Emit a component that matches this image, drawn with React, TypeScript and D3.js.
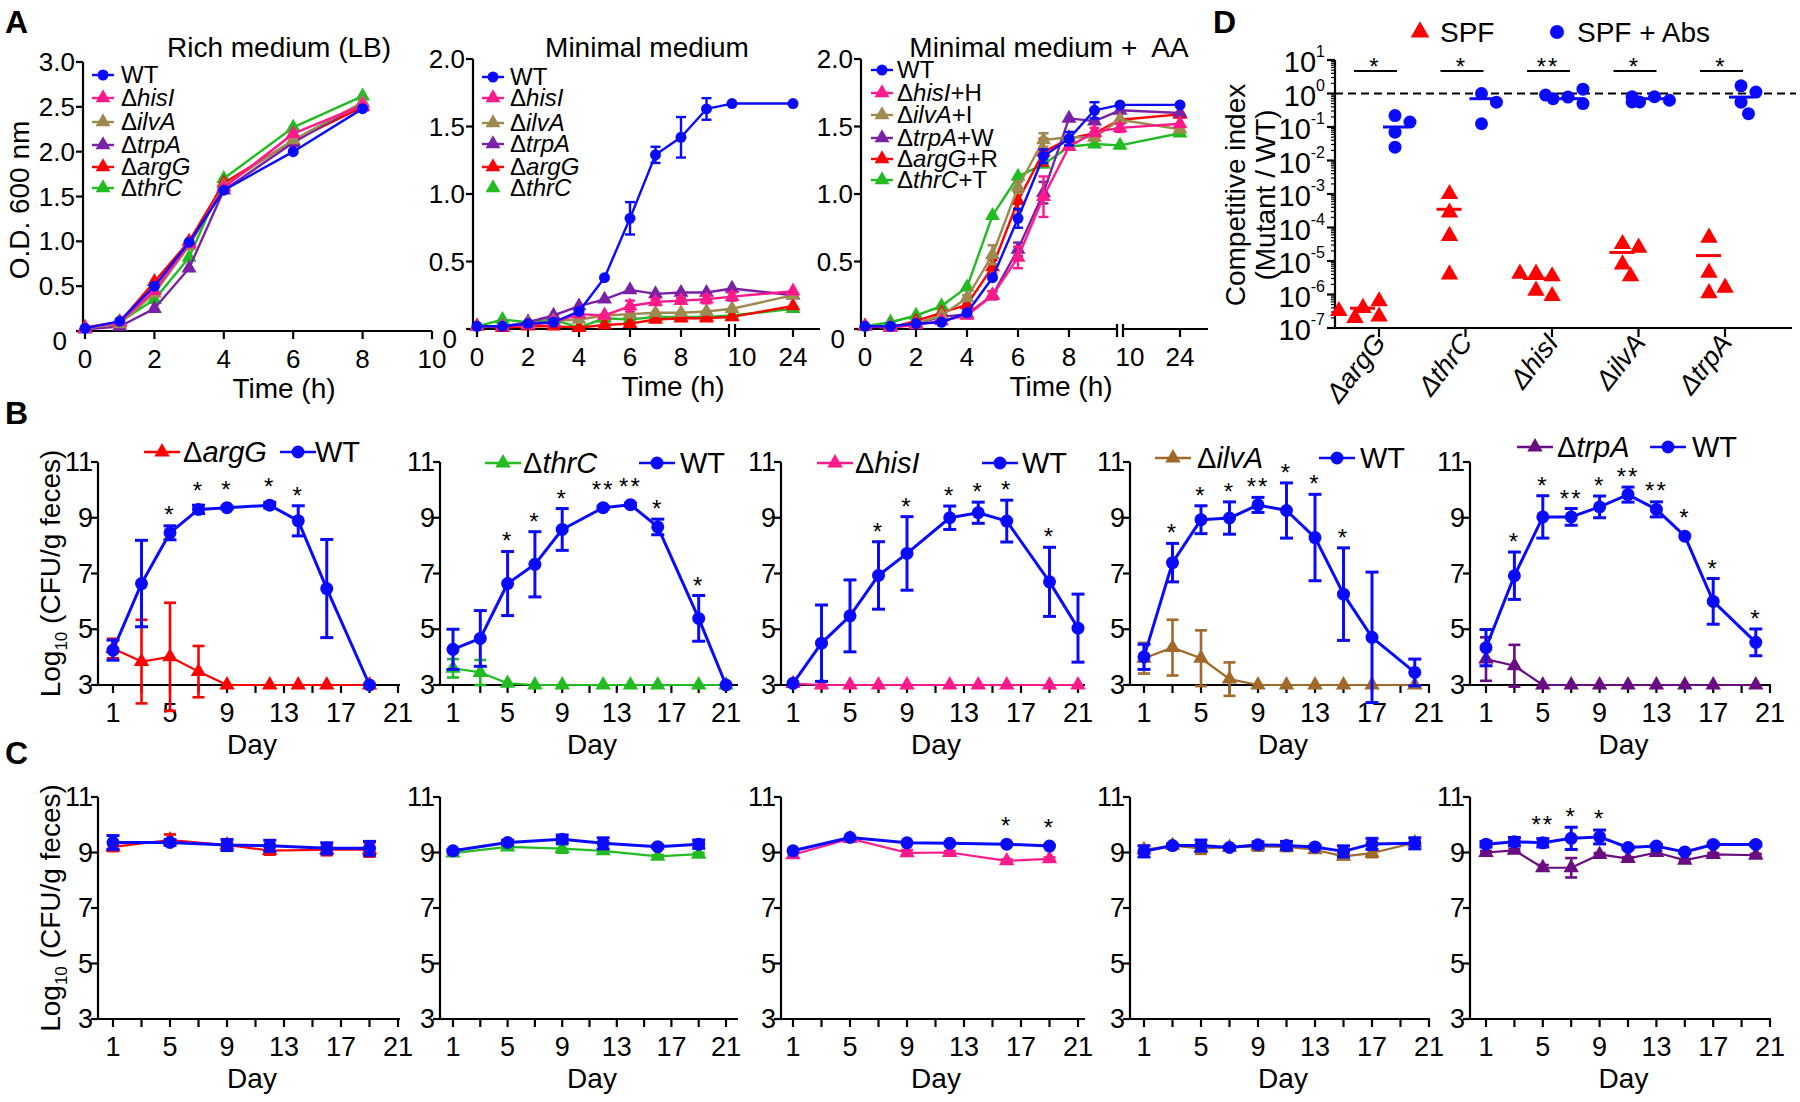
import React from 'react';
import * as d3 from 'd3';

const FONT = '"Liberation Sans", Arial, Helvetica, sans-serif';

const BLUE = '#0a0aff';
const RED = '#ff0000';
const PINK = '#ff1a8c';
const GREEN = '#22bb22';
const PURPLE_A = '#7a22a6';
const OLIVE = '#9c8a4e';
const PURPLE = '#6a0c82';
const BROWN = '#a0692a';

// ---------------- panel A : growth curves ----------------
const richTime = [0, 1, 2, 3, 4, 6, 8];
const richWT = [0.03, 0.11, 0.5, 0.99, 1.57, 2.0, 2.48];
const richHisI = [0.03, 0.1, 0.45, 0.97, 1.6, 2.2, 2.52];
const richIlvA = [0.03, 0.08, 0.42, 0.95, 1.62, 2.13, 2.55];
const richTrpA = [0.02, 0.05, 0.25, 0.7, 1.57, 2.1, 2.55];
const richArgG = [0.04, 0.1, 0.55, 1.0, 1.65, 2.12, 2.5];
const richThrC = [0.03, 0.1, 0.35, 0.82, 1.7, 2.27, 2.62];

const minTime = [0, 1, 2, 3, 4, 5, 6, 7, 8, 9, 10, 24];
const minWT = [0.02, 0.02, 0.04, 0.05, 0.13, 0.38, 0.82, 1.29, 1.42, 1.63, 1.67, 1.67];
const minWTErr = [0, 0, 0, 0, 0, 0, 0.12, 0.06, 0.15, 0.08, 0, 0];
const minHisI = [0.02, 0.02, 0.03, 0.05, 0.11, 0.1, 0.17, 0.2, 0.21, 0.22, 0.24, 0.28];
const minHisIErr = [0, 0, 0, 0, 0, 0, 0.04, 0.02, 0.02, 0.03, 0.03, 0];
const minIlvA = [0.02, 0.02, 0.04, 0.06, 0.07, 0.1, 0.11, 0.12, 0.12, 0.13, 0.15, 0.25];
const minTrpA = [0.02, 0.02, 0.05, 0.1, 0.17, 0.22, 0.29, 0.26, 0.27, 0.27, 0.3, 0.25];
const minArgG = [0.02, 0.01, 0.02, 0.02, 0.01, 0.03, 0.04, 0.07, 0.08, 0.08, 0.09, 0.17];
const minThrC = [0.02, 0.07, 0.05, 0.07, 0.01, 0.08, 0.07, 0.09, 0.09, 0.09, 0.1, 0.15];
const minThrCErr = [0, 0, 0, 0, 0, 0.03, 0, 0, 0, 0, 0, 0];

const aaWT = [0.02, 0.02, 0.04, 0.05, 0.12, 0.38, 0.82, 1.28, 1.41, 1.62, 1.66, 1.66];
const aaWTErr = [0, 0, 0, 0, 0, 0, 0.07, 0.05, 0.05, 0.06, 0, 0];
const aaHisI = [0.02, 0.01, 0.03, 0.06, 0.1, 0.25, 0.53, 0.98, 1.35, 1.46, 1.49, 1.52];
const aaHisIErr = [0, 0, 0, 0, 0.02, 0.03, 0.08, 0.15, 0, 0.03, 0.03, 0];
const aaIlvA = [0.02, 0.02, 0.04, 0.1, 0.23, 0.55, 1.05, 1.4, 1.42, 1.42, 1.55, 1.48];
const aaIlvAErr = [0, 0, 0, 0, 0.02, 0.07, 0.04, 0.05, 0, 0.02, 0, 0];
const aaTrpA = [0.02, 0.02, 0.04, 0.09, 0.11, 0.25, 0.59, 1.01, 1.56, 1.54, 1.62, 1.6];
const aaTrpAErr = [0, 0, 0, 0, 0, 0.03, 0.05, 0.08, 0, 0, 0, 0];
const aaArgG = [0.02, 0.01, 0.06, 0.12, 0.18, 0.46, 0.95, 1.31, 1.41, 1.45, 1.55, 1.59];
const aaArgGErr = [0, 0, 0, 0, 0.03, 0.05, 0.07, 0.1, 0, 0, 0, 0];
const aaThrC = [0.02, 0.05, 0.1, 0.17, 0.31, 0.84, 1.13, 1.22, 1.35, 1.37, 1.36, 1.45];

// ---------------- panel B : mono-colonisation ----------------
const bArgGDays = [1, 3, 5, 7, 9, 12, 14, 16, 19];
const bArgGWT = [4.25, 6.64, 8.46, 9.3, 9.36, 9.45, 8.89, 6.46, 3.0];
const bArgGWTErr = [0.36, 1.55, 0.25, 0.15, 0.05, 0.1, 0.54, 1.76, 0];
const bArgGMut = [4.31, 3.84, 4.01, 3.48, 3, 3, 3, 3, 3];
const bArgGMutErr = [0.35, 1.5, 1.94, 0.92, 0, 0, 0, 0, 0];
const bArgGSig = ['', '', '*', '*', '*', '*', '*', '', ''];

const bThrCDays = [1, 3, 5, 7, 9, 12, 14, 16, 19, 21];
const bThrCWT = [4.28, 4.67, 6.64, 7.33, 8.58, 9.36, 9.47, 8.67, 5.39, 3.0];
const bThrCWTErr = [0.72, 1.0, 1.15, 1.17, 0.75, 0.05, 0.05, 0.28, 0.82, 0];
const bThrCMut = [3.6, 3.45, 3.06, 3, 3, 3, 3, 3, 3, 3];
const bThrCMutErr = [0.33, 0.45, 0, 0, 0, 0, 0, 0, 0, 0];
const bThrCSig = ['', '', '*', '*', '*', '**', '**', '*', '*', ''];

const bHisIDays = [1, 3, 5, 7, 9, 12, 14, 16, 19, 21];
const bHisIWT = [3.06, 4.5, 5.48, 6.93, 7.72, 9.0, 9.18, 8.88, 6.7, 5.04];
const bHisIWTErr = [0, 1.37, 1.29, 1.21, 1.32, 0.42, 0.38, 0.75, 1.24, 1.22];
const bHisIMut = [3.05, 3, 3, 3, 3, 3, 3, 3, 3, 3];
const bHisIMutErr = [0, 0, 0, 0, 0, 0, 0, 0, 0, 0];
const bHisISig = ['', '', '', '*', '*', '*', '*', '*', '*', ''];

const bIlvADays = [1, 3, 5, 7, 9, 11, 13, 15, 17, 20];
const bIlvAWT = [4.01, 7.39, 8.93, 8.99, 9.46, 9.26, 8.29, 6.26, 4.71, 3.45];
const bIlvAWTErr = [0.45, 0.69, 0.5, 0.58, 0.27, 0.99, 1.55, 1.66, 2.34, 0.48];
const bIlvAMut = [3.96, 4.34, 3.96, 3.21, 3, 3, 3, 3, 3, 3];
const bIlvAMutErr = [0.55, 1.0, 1.0, 0.6, 0, 0, 0, 0, 0, 0];
const bIlvASig = ['', '*', '*', '*', '**', '*', '*', '*', '', ''];

const bTrpADays = [1, 3, 5, 7, 9, 11, 13, 15, 17, 20];
const bTrpAWT = [4.34, 6.92, 9.03, 9.03, 9.39, 9.83, 9.3, 8.34, 6.0, 4.53];
const bTrpAWTErr = [0.65, 0.85, 0.76, 0.3, 0.39, 0.27, 0.27, 0, 0.82, 0.48];
const bTrpAMut = [3.93, 3.69, 3, 3, 3, 3, 3, 3, 3, 3];
const bTrpAMutErr = [0.78, 0.75, 0, 0, 0, 0, 0, 0, 0, 0];
const bTrpASig = ['', '*', '*', '**', '*', '**', '**', '*', '*', '*'];

// ---------------- panel C : conventional mice ----------------
const cArgGDays = [1, 5, 9, 12, 16, 19];
const cArgGWT = [9.36, 9.36, 9.27, 9.24, 9.15, 9.15];
const cArgGWTErr = [0.25, 0.1, 0.2, 0.2, 0.2, 0.25];
const cArgGMut = [9.2, 9.45, 9.27, 9.07, 9.1, 9.1];
const cArgGMutErr = [0.15, 0.2, 0.1, 0.15, 0.2, 0.25];

const cThrCDays = [1, 5, 9, 12, 16, 19];
const cThrCWT = [9.06, 9.36, 9.48, 9.33, 9.21, 9.3];
const cThrCWTErr = [0.05, 0.08, 0.15, 0.2, 0.05, 0.15];
const cThrCMut = [8.98, 9.2, 9.14, 9.06, 8.86, 8.94];
const cThrCMutErr = [0.03, 0.05, 0.15, 0.05, 0.05, 0.05];

const cHisIDays = [1, 5, 9, 12, 16, 19];
const cHisIWT = [9.06, 9.54, 9.35, 9.33, 9.3, 9.23];
const cHisIWTErr = [0, 0, 0, 0, 0, 0];
const cHisIMut = [8.92, 9.5, 8.99, 9.0, 8.7, 8.77];
const cHisIMutErr = [0, 0, 0.1, 0.05, 0.05, 0.05];
const cHisISig = ['', '', '', '', '*', '*'];

const cIlvADays = [1, 3, 5, 7, 9, 11, 13, 15, 17, 20];
const cIlvAWT = [9.04, 9.25, 9.25, 9.18, 9.28, 9.25, 9.2, 9.04, 9.31, 9.33];
const cIlvAWTErr = [0.2, 0.05, 0.2, 0.05, 0.1, 0.15, 0.05, 0.2, 0.2, 0.2];
const cIlvAMut = [9.1, 9.25, 9.15, 9.18, 9.22, 9.2, 9.1, 8.86, 8.98, 9.35];
const cIlvAMutErr = [0.15, 0.05, 0.2, 0.05, 0.15, 0.15, 0.1, 0.1, 0.15, 0.1];

const cTrpADays = [1, 3, 5, 7, 9, 11, 13, 15, 17, 20];
const cTrpAWT = [9.3, 9.39, 9.35, 9.51, 9.56, 9.18, 9.23, 9.02, 9.29, 9.29];
const cTrpAWTErr = [0.1, 0.15, 0.15, 0.4, 0.25, 0.05, 0.05, 0.05, 0.05, 0.05];
const cTrpAMut = [9.0, 9.08, 8.45, 8.45, 8.93, 8.78, 9.0, 8.72, 8.93, 8.9];
const cTrpAMutErr = [0.05, 0.05, 0.1, 0.35, 0.05, 0.05, 0.05, 0.05, 0.05, 0.05];
const cTrpASig = ['', '', '**', '*', '*', '', '', '', '', ''];

// ---------------- panel D : competitive index ----------------
const dGenes = ['argG', 'thrC', 'hisI', 'ilvA', 'trpA'];
const dSPF = [
  [4.0e-7, 2.2e-7, 2.0e-7, 6.3e-7, 3.2e-7],
  [1.0e-3, 2.8e-4, 5.6e-5, 4.0e-6],
  [4.2e-6, 3.5e-6, 4.2e-6, 1.3e-6, 9e-7],
  [3.2e-5, 2.5e-5, 7.9e-6, 3.5e-6],
  [5.0e-5, 4.5e-6, 1.1e-6, 1.6e-6],
];
const dSPFLine = [3.9e-7, 3.5e-4, 3.0e-6, 1.8e-5, 1.45e-5];
const dAbs = [
  [0.22, 0.14, 0.07, 0.025],
  [1.0, 0.55, 0.125],
  [0.78, 0.5, 0.7, 1.35, 0.9],
  [0.8, 0.63, 0.56, 0.56, 0.8],
  [1.7, 1.1, 0.55, 0.25],
];
const dAbsLine = [0.1, 0.7, 0.7, 0.7, 0.78];
const dSig = ['*', '*', '**', '*', '*'];

// ---------------- helpers ----------------
function Marker({ kind, x, y, color, r }: any) {
  if (kind === 'circle') return <circle cx={x} cy={y} r={r} fill={color} />;
  const p = d3.symbol().type(d3.symbolTriangle).size(r * r * 2.7)();
  return <path d={p || ''} transform={`translate(${x},${y})`} fill={color} />;
}

function SeriesG({ xs, ys, xv, yv, err, color, kind, r, lw, ew, cap }: any) {
  const line = d3.line<number>().x((_, i) => xs(xv[i])).y((d) => ys(d));
  return (
    <g>
      {err &&
        yv.map((v: number, i: number) =>
          err[i] > 0 ? (
            <g key={'e' + i} stroke={color} strokeWidth={ew}>
              <line x1={xs(xv[i])} x2={xs(xv[i])} y1={ys(v - err[i])} y2={ys(v + err[i])} />
              <line x1={xs(xv[i]) - cap} x2={xs(xv[i]) + cap} y1={ys(v + err[i])} y2={ys(v + err[i])} />
              <line x1={xs(xv[i]) - cap} x2={xs(xv[i]) + cap} y1={ys(v - err[i])} y2={ys(v - err[i])} />
            </g>
          ) : null
        )}
      <path d={line(yv) || ''} fill="none" stroke={color} strokeWidth={lw} strokeLinejoin="round" />
      {yv.map((v: number, i: number) => (
        <Marker key={i} kind={kind} x={xs(xv[i])} y={ys(v)} color={color} r={r} />
      ))}
    </g>
  );
}

function GeneLabel({ gene, suffix }: any) {
  return (
    <>
      <tspan>Δ</tspan>
      <tspan fontStyle="italic">{gene}</tspan>
      {suffix ? <tspan>{suffix}</tspan> : null}
    </>
  );
}

// ---------------- A ----------------
function GrowthPanel({ cfg }: any) {
  const { axisX, xDomain, xRange, xEnd, yRange, yMax, broken, series, title, titleX, xLabelX, leg } = cfg;
  const x = d3.scaleLinear().domain(xDomain).range(xRange);
  const y = d3.scaleLinear().domain([0, yMax]).range(yRange);
  const yb = yRange[0];
  const yTicks = d3.range(0, yMax + 1e-9, 0.5);
  const xTicks = broken ? [0, 2, 4, 6, 8, 24] : [0, 2, 4, 6, 8, 10];
  const x10 = x(10);
  return (
    <g>
      <text x={titleX} y={57} fontSize={28} textAnchor="middle" style={{ whiteSpace: 'pre' }}>{title}</text>
      <g stroke="#000" strokeWidth={2.2}>
        <line x1={axisX} x2={axisX} y1={y(yMax)} y2={yb + 1} />
        {yTicks.map((t: number) => <line key={t} x1={axisX - 7} x2={axisX} y1={y(t)} y2={y(t)} />)}
        {broken ? (
          <>
            <line x1={axisX} x2={x10 - 3} y1={yb} y2={yb} />
            <line x1={x10 + 3} x2={xEnd} y1={yb} y2={yb} />
            <line x1={x10 - 3} x2={x10 - 3} y1={yb - 5} y2={yb + 8} />
            <line x1={x10 + 3} x2={x10 + 3} y1={yb - 5} y2={yb + 8} />
          </>
        ) : (
          <line x1={axisX} x2={xEnd} y1={yb} y2={yb} />
        )}
        {xTicks.map((t: number) => <line key={t} x1={x(t)} x2={x(t)} y1={yb} y2={yb + 8} />)}
      </g>
      {yTicks.map((t: number) =>
        t === 0 ? (
          <text key={t} x={axisX - 16} y={yb + 19} fontSize={26} textAnchor="end">0</text>
        ) : (
          <text key={t} x={axisX - 8} y={y(t) + 9} fontSize={26} textAnchor="end">{t.toFixed(1)}</text>
        )
      )}
      {[...xTicks, ...(broken ? [10] : [])].map((t: number) => (
        <text key={t} x={t === 10 && broken ? x10 + 10 : x(t)} y={yb + 37} fontSize={26} textAnchor="middle">{t}</text>
      ))}
      <text x={xLabelX} y={yb + 67} fontSize={28} textAnchor="middle">Time (h)</text>
      {[...series].reverse().map((s: any) => (
        <SeriesG key={s.label} xs={x} ys={y} xv={s.x} yv={s.y} err={s.err} color={s.color}
          kind={s.kind} r={s.kind === 'circle' ? 5.5 : 6} lw={2.4} ew={2.4} cap={5} />
      ))}
      {series.map((s: any, i: number) => (
        <g key={'l' + i}>
          {s.noLegendLine ? null : (
            <line x1={leg.mx - 11} x2={leg.mx + 11} y1={leg.rows[i]} y2={leg.rows[i]} stroke={s.color} strokeWidth={2.4} />
          )}
          <Marker kind={s.kind} x={leg.mx} y={leg.rows[i]} color={s.color} r={s.kind === 'circle' ? 5.5 : 6} />
          <text x={leg.tx} y={leg.rows[i] + 8} fontSize={24}>
            {s.gene ? <GeneLabel gene={s.gene} suffix={s.suffix} /> : s.label}
          </text>
        </g>
      ))}
    </g>
  );
}

// ---------------- B / C ----------------
function DayPanel({ cfg, top, bottom, legend, yLabel }: any) {
  const { axisX, d1, d21, end, days, wt, wtErr, mut, mutErr, sig, color, gene, leg } = cfg;
  const xs = d3.scaleLinear().domain([1, 21]).range([d1, d21]);
  const ys = d3.scaleLinear().domain([3, 11]).range([bottom, top]);
  const xTicks = d3.range(1, 22, 2);
  const xLabels = [1, 5, 9, 13, 17, 21];
  const yTicks = [3, 5, 7, 9, 11];
  return (
    <g>
      <g stroke="#000" strokeWidth={2.2}>
        <line x1={axisX} x2={axisX} y1={top} y2={bottom + 1} />
        <line x1={axisX} x2={end} y1={bottom} y2={bottom} />
        {yTicks.map((t) => <line key={t} x1={axisX - 7} x2={axisX} y1={ys(t)} y2={ys(t)} />)}
        {xTicks.map((t) => <line key={t} x1={xs(t)} x2={xs(t)} y1={bottom} y2={bottom + 8} />)}
      </g>
      {yTicks.map((t) => (
        <text key={t} x={axisX - 5} y={ys(t) + 9} fontSize={27} textAnchor="end">{t}</text>
      ))}
      {xLabels.map((t) => (
        <text key={t} x={xs(t)} y={bottom + 37} fontSize={27} textAnchor="middle">{t}</text>
      ))}
      <text x={(axisX + end) / 2 + 3} y={bottom + 69} fontSize={28} textAnchor="middle">Day</text>
      {yLabel ? (
        <text transform={`translate(60,${(top + bottom) / 2}) rotate(-90)`} fontSize={28} textAnchor="middle">
          <tspan>Log</tspan>
          <tspan fontSize={17} dy={7}>10</tspan>
          <tspan dy={-7}> (CFU/g feces)</tspan>
        </text>
      ) : null}
      <SeriesG xs={xs} ys={ys} xv={days} yv={mut} err={mutErr} color={color} kind="tri" r={6.2} lw={2.2} ew={2.6} cap={6} />
      <SeriesG xs={xs} ys={ys} xv={days} yv={wt} err={wtErr} color={BLUE} kind="circle" r={6.5} lw={3} ew={3} cap={6.5} />
      {sig &&
        sig.map((s: string, i: number) => {
          if (!s) return null;
          const tp = Math.min(ys(wt[i] + wtErr[i]), ys(wt[i]) - 8);
          return (
            <text key={'s' + i} x={xs(days[i])} y={tp - 2} fontSize={24} textAnchor="middle" letterSpacing={2}>{s}</text>
          );
        })}
      {legend ? (
        <g>
          <line x1={leg[0] - 18} x2={leg[0] + 18} y1={leg[4]} y2={leg[4]} stroke={color} strokeWidth={2.4} />
          <Marker kind="tri" x={leg[0]} y={leg[4]} color={color} r={6.2} />
          <text x={leg[1]} y={leg[4] + 10} fontSize={29}><GeneLabel gene={gene} /></text>
          <line x1={leg[2] - 18} x2={leg[2] + 18} y1={leg[4]} y2={leg[4]} stroke={BLUE} strokeWidth={2.6} />
          <Marker kind="circle" x={leg[2]} y={leg[4]} color={BLUE} r={6.5} />
          <text x={leg[3]} y={leg[4] + 10} fontSize={29}>WT</text>
        </g>
      ) : null}
    </g>
  );
}

// ---------------- D ----------------
function swarm(vals: number[], y: (v: number) => number, cx: number, r: number) {
  const placed: { x: number; y: number }[] = [];
  const offs = [0, 1, -1, 2, -2, 3, -3];
  return vals.map((v) => {
    const py = y(v);
    let px = cx;
    for (const o of offs) {
      px = cx + o * r * 1.15;
      if (placed.every((p) => Math.hypot(p.x - px, p.y - py) >= r * 1.8)) break;
    }
    placed.push({ x: px, y: py });
    return { x: px, y: py };
  });
}

function PanelD() {
  const axisX = 1335;
  const yb = 328;
  const x = d3.scalePoint<string>().domain(dGenes).range([1379, 1725]);
  const y = d3.scaleLog().domain([1e-7, 10]).range([yb, 60]);
  const decades = d3.range(-7, 2);
  const minors = d3.range(-7, 1).flatMap((e) => d3.range(2, 10).map((m) => m * Math.pow(10, e)));
  return (
    <g>
      <g stroke="#000" strokeWidth={2.2}>
        <line x1={axisX} x2={axisX} y1={y(10)} y2={yb + 1} />
        <line x1={axisX} x2={1792} y1={yb} y2={yb} />
        {decades.map((e) => <line key={e} x1={axisX - 8} x2={axisX} y1={y(Math.pow(10, e))} y2={y(Math.pow(10, e))} />)}
        {dGenes.map((g) => <line key={g} x1={x(g)!} x2={x(g)!} y1={yb} y2={yb + 9} />)}
      </g>
      <g stroke="#000" strokeWidth={1.2}>
        {minors.map((m, i) => <line key={i} x1={axisX - 4} x2={axisX} y1={y(m)} y2={y(m)} />)}
      </g>
      {decades.map((e) => (
        <text key={e} x={axisX - 10} y={y(Math.pow(10, e)) + 12} fontSize={29} textAnchor="end">
          <tspan>10</tspan>
          <tspan fontSize={16} dy={-15}>{e}</tspan>
        </text>
      ))}
      <text transform={`translate(1245,195) rotate(-90)`} fontSize={28} textAnchor="middle">Competitive index</text>
      <text transform={`translate(1275,195) rotate(-90)`} fontSize={28} textAnchor="middle">(Mutant / WT)</text>
      <line x1={axisX} x2={1796} y1={y(1)} y2={y(1)} stroke="#000" strokeWidth={2.2} strokeDasharray="8,5" />
      {dGenes.map((g, i) => {
        const cx = x(g)!;
        const spf = swarm(dSPF[i], y, cx - 16, 7);
        const abs = swarm(dAbs[i], y, cx + 16, 6.5);
        return (
          <g key={g}>
            <line x1={cx - 25} x2={cx + 18} y1={71} y2={71} stroke="#000" strokeWidth={2} />
            <text x={cx - 4} y={75} fontSize={24} textAnchor="middle" letterSpacing={2}>{dSig[i]}</text>
            {spf.map((p, j) => <Marker key={'s' + j} kind="tri" x={p.x} y={p.y} color={RED} r={7} />)}
            <line x1={cx - 29} x2={cx - 4} y1={y(dSPFLine[i])} y2={y(dSPFLine[i])} stroke={RED} strokeWidth={3} />
            {abs.map((p, j) => <Marker key={'a' + j} kind="circle" x={p.x} y={p.y} color={BLUE} r={6.5} />)}
            <line x1={cx + 4} x2={cx + 29} y1={y(dAbsLine[i])} y2={y(dAbsLine[i])} stroke={BLUE} strokeWidth={3} />
            <text transform={`translate(${cx + 8},${yb + 15}) rotate(-52)`} fontSize={27} textAnchor="end" fontStyle="italic">
              Δ{g}
            </text>
          </g>
        );
      })}
      <Marker kind="tri" x={1420} y={32} color={RED} r={7.5} />
      <text x={1440} y={42} fontSize={28}>SPF</text>
      <Marker kind="circle" x={1557} y={32} color={BLUE} r={7} />
      <text x={1577} y={42} fontSize={28}>SPF + Abs</text>
    </g>
  );
}

export default function App() {
  const aSeries = (wt: any, his: any, ilv: any, trp: any, arg: any, thr: any, t: number[], aa: boolean, errs: any) => [
    { label: 'WT', color: BLUE, kind: 'circle', x: t, y: wt, err: errs[0] },
    { label: 'his', gene: 'hisI', suffix: aa ? '+H' : '', color: PINK, kind: 'tri', x: t, y: his, err: errs[1] },
    { label: 'ilv', gene: 'ilvA', suffix: aa ? '+I' : '', color: OLIVE, kind: 'tri', x: t, y: ilv, err: errs[2] },
    { label: 'trp', gene: 'trpA', suffix: aa ? '+W' : '', color: PURPLE_A, kind: 'tri', x: t, y: trp, err: errs[3] },
    { label: 'arg', gene: 'argG', suffix: aa ? '+R' : '', color: RED, kind: 'tri', x: t, y: arg, err: errs[4] },
    { label: 'thr', gene: 'thrC', suffix: aa ? '+T' : '', color: GREEN, kind: 'tri', x: t, y: thr, err: errs[5] },
  ];

  const richSeries = aSeries(richWT, richHisI, richIlvA, richTrpA, richArgG, richThrC, richTime, false, []);
  const minSeries = aSeries(minWT, minHisI, minIlvA, minTrpA, minArgG, minThrC, minTime, false,
    [minWTErr, minHisIErr, null, null, null, minThrCErr]);
  minSeries[5] = { ...minSeries[5], noLegendLine: true } as any;
  const aaSeries = aSeries(aaWT, aaHisI, aaIlvA, aaTrpA, aaArgG, aaThrC, minTime, true,
    [aaWTErr, aaHisIErr, aaIlvAErr, aaTrpAErr, aaArgGErr, null]);

  const aPanels = [
    { axisX: 83, xDomain: [0, 10], xRange: [85, 432], xEnd: 432, yRange: [331, 62], yMax: 3, broken: false,
      series: richSeries, title: 'Rich medium (LB)', titleX: 279, xLabelX: 284,
      leg: { mx: 103, tx: 121, rows: [75, 98, 122, 145, 167, 188] } },
    { axisX: 473, xDomain: [0, 10, 24], xRange: [477, 732, 793], xEnd: 820, yRange: [329, 59], yMax: 2, broken: true,
      series: minSeries, title: 'Minimal medium', titleX: 647, xLabelX: 673,
      leg: { mx: 493, tx: 510, rows: [77, 98, 123, 144, 167, 188] } },
    { axisX: 861, xDomain: [0, 10, 24], xRange: [865, 1120, 1180], xEnd: 1208, yRange: [329, 59], yMax: 2, broken: true,
      series: aaSeries, title: 'Minimal medium +  AA', titleX: 1049, xLabelX: 1061,
      leg: { mx: 882, tx: 897, rows: [70, 93, 115, 138, 159, 180] } },
  ];

  const frames = [
    { axisX: 98, d1: 113, d21: 398, end: 400 },
    { axisX: 440, d1: 453, d21: 726, end: 738 },
    { axisX: 781, d1: 793, d21: 1078, end: 1085 },
    { axisX: 1130, d1: 1144, d21: 1429, end: 1430 },
    { axisX: 1470, d1: 1486, d21: 1770, end: 1771 },
  ];

  const bPanels = [
    { ...frames[0], gene: 'argG', color: RED, days: bArgGDays, wt: bArgGWT, wtErr: bArgGWTErr, mut: bArgGMut, mutErr: bArgGMutErr, sig: bArgGSig, leg: [162, 183, 298, 315, 452] },
    { ...frames[1], gene: 'thrC', color: GREEN, days: bThrCDays, wt: bThrCWT, wtErr: bThrCWTErr, mut: bThrCMut, mutErr: bThrCMutErr, sig: bThrCSig, leg: [503, 523, 657, 680, 463] },
    { ...frames[2], gene: 'hisI', color: PINK, days: bHisIDays, wt: bHisIWT, wtErr: bHisIWTErr, mut: bHisIMut, mutErr: bHisIMutErr, sig: bHisISig, leg: [835, 855, 1000, 1022, 463] },
    { ...frames[3], gene: 'ilvA', color: BROWN, days: bIlvADays, wt: bIlvAWT, wtErr: bIlvAWTErr, mut: bIlvAMut, mutErr: bIlvAMutErr, sig: bIlvASig, leg: [1173, 1197, 1337, 1360, 458] },
    { ...frames[4], gene: 'trpA', color: PURPLE, days: bTrpADays, wt: bTrpAWT, wtErr: bTrpAWTErr, mut: bTrpAMut, mutErr: bTrpAMutErr, sig: bTrpASig, leg: [1535, 1557, 1668, 1692, 447] },
  ];

  const cPanels = [
    { ...frames[0], gene: 'argG', color: RED, days: cArgGDays, wt: cArgGWT, wtErr: cArgGWTErr, mut: cArgGMut, mutErr: cArgGMutErr, sig: null },
    { ...frames[1], gene: 'thrC', color: GREEN, days: cThrCDays, wt: cThrCWT, wtErr: cThrCWTErr, mut: cThrCMut, mutErr: cThrCMutErr, sig: null },
    { ...frames[2], gene: 'hisI', color: PINK, days: cHisIDays, wt: cHisIWT, wtErr: cHisIWTErr, mut: cHisIMut, mutErr: cHisIMutErr, sig: cHisISig },
    { ...frames[3], gene: 'ilvA', color: BROWN, days: cIlvADays, wt: cIlvAWT, wtErr: cIlvAWTErr, mut: cIlvAMut, mutErr: cIlvAMutErr, sig: null },
    { ...frames[4], gene: 'trpA', color: PURPLE, days: cTrpADays, wt: cTrpAWT, wtErr: cTrpAWTErr, mut: cTrpAMut, mutErr: cTrpAMutErr, sig: cTrpASig },
  ];

  return (
    <svg width={1800} height={1102} style={{ position: 'absolute', left: 0, top: 0, background: '#fff' }}
      fontFamily={FONT}>
      <rect width={1800} height={1102} fill="#fff" />
      <text x={5} y={33} fontSize={32} fontWeight="bold">A</text>
      <text x={5} y={424} fontSize={32} fontWeight="bold">B</text>
      <text x={5} y={764} fontSize={32} fontWeight="bold">C</text>
      <text x={1213} y={33} fontSize={32} fontWeight="bold">D</text>
      <text transform="translate(29,200) rotate(-90)" fontSize={28} textAnchor="middle">O.D. 600 nm</text>
      {aPanels.map((p, i) => <GrowthPanel key={i} cfg={p} />)}
      {bPanels.map((p, i) => <DayPanel key={'b' + i} cfg={p} top={462} bottom={685} legend yLabel={i === 0} />)}
      {cPanels.map((p, i) => <DayPanel key={'c' + i} cfg={p} top={797} bottom={1019} legend={false} yLabel={i === 0} />)}
      <PanelD />
    </svg>
  );
}
